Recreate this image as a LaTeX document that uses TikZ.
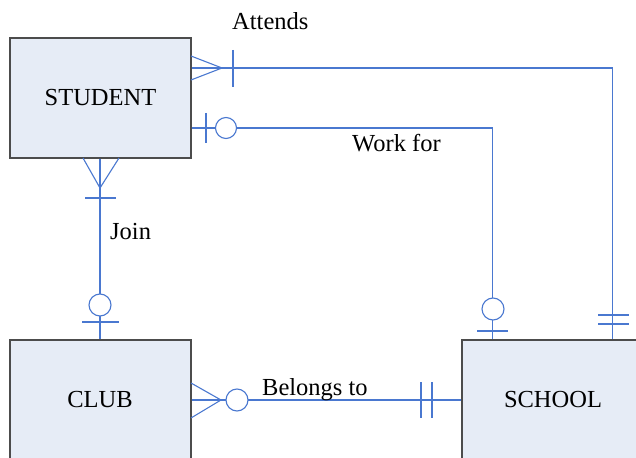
\documentclass[tikz,border=0pt]{standalone}
\usepackage{fontspec}
\setmainfont{Liberation Serif}
\begin{document}
\begin{tikzpicture}[x=1bp,y=-1bp,
  entity/.style={draw=black!70,line width=1.2bp,fill=boxfill,inner sep=0pt,
    font=\fontsize{24.5bp}{28bp}\selectfont},
  rel/.style={draw=linkblue,line width=1.1bp},
  lbl/.style={inner sep=0pt,anchor=base west,font=\fontsize{24.5bp}{28bp}\selectfont}]
\definecolor{boxfill}{HTML}{E6ECF6}
\definecolor{linkblue}{HTML}{4A78D0}
\useasboundingbox (0,0) rectangle (636,458);
\clip (0,0) rectangle (636,458);

% entities
\node[entity,minimum width=181bp,minimum height=120bp] (student) at (100.5,98) {STUDENT};
\node[entity,minimum width=181bp,minimum height=120bp] (club) at (100.5,400) {};
\node at (100,400) [font=\fontsize{24.5bp}{28bp}\selectfont] (clubtxt) {CLUB};
\node[entity,minimum width=200bp,minimum height=120bp] (school) at (562,400) {};
\node at (553,400) [font=\fontsize{24.5bp}{28bp}\selectfont] (schooltxt) {SCHOOL};

% relationship lines
\coordinate (attA) at ([yshift=30bp]student.east);
\coordinate (attB) at ([xshift=151bp]school.north west);
\draw[rel] (attA) -| (attB);
\coordinate (wfA) at ([yshift=-30bp]student.east);
\coordinate (wfB) at ([xshift=31bp]school.north west);
\draw[rel] (wfA) -| (wfB);
\draw[rel] ([xshift=-0.5bp]student.south) -- ([xshift=-0.5bp]club.north);
\draw[rel] (club.east) -- (school.west);

% Attends: many (student side), one (school side)
\draw[rel] (191,56) -- (222,68) -- (191,80);
\draw[rel] (233,50) -- (233,87);
\draw[rel] (598,315) -- (629,315);
\draw[rel] (598,324) -- (629,324);

% Work for: zero-or-one at both ends
\draw[rel] (206,113) -- (206,143);
\draw[rel,fill=white] (226,128) circle[radius=10.5];
\draw[rel,fill=white] (493,309) circle[radius=11];
\draw[rel] (477,331) -- (508,331);

% Join
\draw[rel] (83,158) -- (100,188) -- (119,158);
\draw[rel] (85,198) -- (116,198);
\draw[rel,fill=white] (100,305) circle[radius=11];
\draw[rel] (82,322) -- (119,322);

% Belongs to
\draw[rel] (191,383) -- (221,400) -- (191,418);
\draw[rel,fill=white] (237,400) circle[radius=11];
\draw[rel] (421,382) -- (421,418);
\draw[rel] (432,382) -- (432,418);

% relationship names
\node[lbl] (latt) at (232,30) {Attends};
\node[lbl] (lwf) at (352,152) {Work for};
\node[lbl] (ljoin) at (110,240) {Join};
\node[lbl] (lbel) at (262,395) {Belongs to};
\end{tikzpicture}
\end{document}
